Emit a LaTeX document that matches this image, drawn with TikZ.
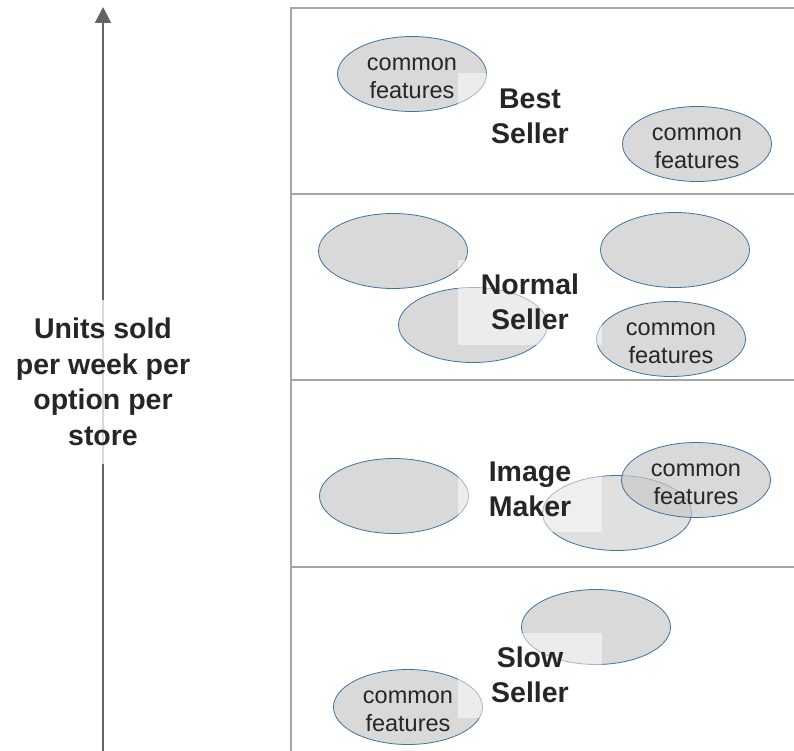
\documentclass[tikz,border=0pt]{standalone}
\usepackage{fontspec}
\setmainfont{Liberation Sans}
\usetikzlibrary{shapes.geometric,arrows.meta}
\definecolor{txt}{HTML}{262626}
\definecolor{ellfill}{HTML}{D9D9D9}
\definecolor{ellline}{HTML}{41719C}
\definecolor{gridc}{HTML}{A6A6A6}
\definecolor{axisc}{HTML}{646464}
\newcommand\cftext{\raisebox{-11.5pt}[0pt][0pt]{\renewcommand\arraystretch{1}\begin{tabular}{@{}c@{}}common\\features\end{tabular}}}
\tikzset{
  ell/.style={ellipse, draw=ellline, line width=0.8pt, fill=ellfill,
    minimum width=149pt, minimum height=75pt, inner sep=0pt,
    text=txt, align=center, font=\fontsize{23.5}{28}\selectfont},
  catlabel/.style={fill=white, fill opacity=0.5, text opacity=1, text=txt,
    align=center, font=\fontsize{28.5}{35}\selectfont\bfseries,
    minimum width=144pt, minimum height=85pt, inner sep=0pt},
  gridline/.style={draw=gridc, line width=1.3pt},
  axisline/.style={draw=axisc, line width=2pt,
    -{Triangle[width=16pt,length=16pt]}},
}
\begin{document}
\begin{tikzpicture}[x=1pt,y=-1pt]
\useasboundingbox (0,0) rectangle (794,751);
% panel grid
\draw[gridline] (794,8) -- (291,8) -- (291,751);
\draw[gridline] (291,194) -- (794,194);
\draw[gridline] (291,380) -- (794,380);
\draw[gridline] (291,567) -- (794,567);
% axis
\coordinate (abot) at (103,751);
\coordinate (atop) at (103,7);
\draw[axisline] (abot) -- (atop);
\node[fill=white, fill opacity=0.75, text opacity=1, text=txt, align=center,
  font=\fontsize{28.5}{35.5}\selectfont\bfseries, minimum height=164pt, inner sep=2pt]
  (units) at (103,382) {Units sold\\per week per\\option per\\store};
% Best Seller
\node[ell] (b1) at (412,74) {\cftext};
\node[ell] (b2) at (697,144) {\cftext};
% Normal Seller
\node[ell] (n1) at (393,251) {};
\node[ell] (n2) at (675,250) {};
\node[ell] (n3) at (473,325) {};
\node[ell] (n4) at (671,339) {\cftext};
% Image Maker
\node[ell] (i1) at (394,496) {};
\node[ell, fill=white!88!black] (i3) at (617,513) {};
\node[ell, fill=white!79!black, fill opacity=0.7, text opacity=1] (i2) at (696,480) {\cftext};
% Slow Seller
\node[ell] (s1) at (596,627) {};
\node[ell] (s2) at (408,707) {\cftext};
% category labels
\node[catlabel] (best) at (530,116) {Best\\Seller};
\node[catlabel] (normal) at (530,302) {Normal\\Seller};
\node[catlabel] (image) at (530,489) {Image\\Maker};
\node[catlabel] (slow) at (530,675) {Slow\\Seller};
\end{tikzpicture}
\end{document}
